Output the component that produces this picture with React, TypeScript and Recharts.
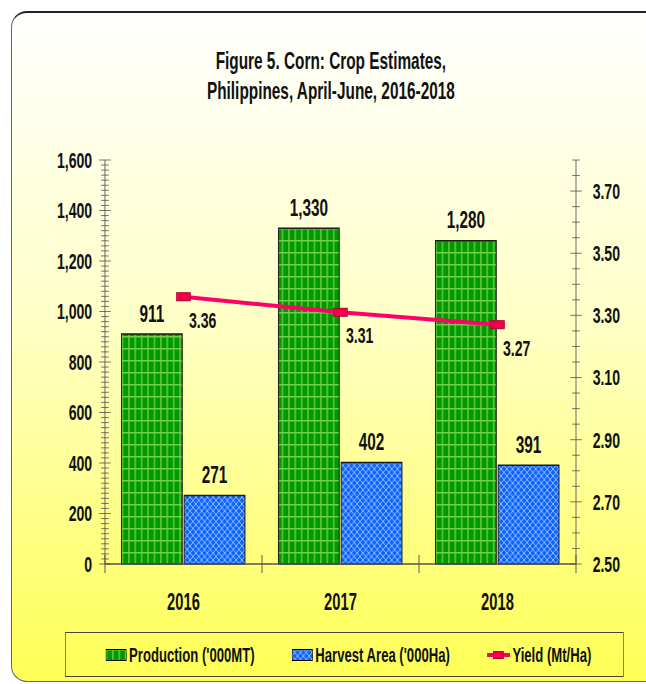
import React from 'react';
import {
  ComposedChart,
  Bar,
  Line,
  XAxis,
  YAxis,
  Legend,
  LabelList,
} from 'recharts';

// values
const years = ['2016', '2017', '2018'];
const production = [911, 1330, 1280];
const harvestArea = [271, 402, 391];
const yieldValues = [3.36, 3.31, 3.27];

const leftMajorTicks = [0, 200, 400, 600, 800, 1000, 1200, 1400, 1600];
const rightMajorTicks = [2.5, 2.7, 2.9, 3.1, 3.3, 3.5, 3.7];

// minor ticks between the labelled ones
const leftTicks = Array.from({ length: 81 }, (_, i) => i * 20);
const rightTicks = Array.from({ length: 27 }, (_, i) => Math.round((2.5 + i * 0.05) * 100) / 100);

const legendOrder = ['production', 'harvest', 'yield'];

const data = years.map((year, i) => ({
  year,
  production: production[i],
  harvest: harvestArea[i],
  yield: yieldValues[i],
}));

// the whole picture is squeezed horizontally, so the chart is drawn wide and scaled
const SX = 0.64;
const CW = 1010;
const CH = 684;
const FONT = '"Liberation Sans", Arial, sans-serif';
const TEXT = '#111';

const LeftTick = (props: any) => {
  const { x, y, payload } = props;
  const v = payload.value;
  const major = leftMajorTicks.includes(v);
  const half = major ? 9 : 6;
  return (
    <g>
      <line x1={x - half} x2={x + half} y1={y} y2={y} stroke="#555" strokeWidth={1} />
      {major && (
        <text x={x - 20} y={y} dy="0.36em" textAnchor="end" fontSize={22} fontWeight="bold" fontFamily={FONT} fill={TEXT}>
          {v.toLocaleString('en-US')}
        </text>
      )}
    </g>
  );
};

const RightTick = (props: any) => {
  const { x, y, payload } = props;
  const v = payload.value;
  const major = rightMajorTicks.some(t => Math.abs(t - v) < 1e-6);
  const half = major ? 9 : 6;
  return (
    <g>
      <line x1={x - half} x2={x + half} y1={y} y2={y} stroke="#555" strokeWidth={1} />
      {major && (
        <text x={x + 26} y={y} dy="0.36em" textAnchor="start" fontSize={22} fontWeight="bold" fontFamily={FONT} fill={TEXT}>
          {v.toFixed(2)}
        </text>
      )}
    </g>
  );
};

const XTick = (props: any) => {
  const { x, y, payload, index } = props;
  const off = payload.offset || 122.7;
  return (
    <g>
      <line x1={x - off} x2={x - off} y1={y - 9} y2={y + 9} stroke="#555" strokeWidth={1.5} />
      {index === years.length - 1 && (
        <line x1={x + off} x2={x + off} y1={y - 9} y2={y + 9} stroke="#555" strokeWidth={1.5} />
      )}
      <text x={x} y={y + 38} dy="0.36em" textAnchor="middle" fontSize={23} fontWeight="bold" fontFamily={FONT} fill={TEXT}>
        {payload.value}
      </text>
    </g>
  );
};

const BarLabel = (props: any) => {
  const { x, y, width, value } = props;
  return (
    <text x={x + width / 2} y={y - 21} dy="0.36em" textAnchor="middle" fontSize={24} fontWeight="bold" fontFamily={FONT} fill={TEXT}>
      {Number(value).toLocaleString('en-US')}
    </text>
  );
};

const YieldLabel = (props: any) => {
  const { x, y, value } = props;
  return (
    <text x={x + 30} y={y + 23} dy="0.36em" textAnchor="middle" fontSize={22} fontWeight="bold" fontFamily={FONT} fill={TEXT}>
      {Number(value).toFixed(2)}
    </text>
  );
};

const YieldDot = (props: any) => {
  const { cx, cy, index } = props;
  return (
    <rect key={`dot-${index}`} x={cx - 11} y={cy - 4} width={22} height={8} fill="#F0004A" stroke="#B0002E" strokeWidth={1} />
  );
};

const Swatch = ({ kind }: { kind: string }) => {
  if (kind === 'yield') {
    return (
      <svg width={36} height={12}>
        <line x1={0} x2={36} y1={6} y2={6} stroke="#FF0066" strokeWidth={4} />
        <rect x={10} y={2.5} width={16} height={7} fill="#F0004A" stroke="#B0002E" />
      </svg>
    );
  }
  return (
    <svg width={33} height={12}>
      <rect x={0.5} y={0.5} width={32} height={11} fill={kind === 'production' ? 'url(#prodPattern)' : 'url(#areaPattern)'} stroke="#000" />
    </svg>
  );
};

const legendLeft = [62, 353, 658];

const renderLegend = (props: any) => {
  const payload = [...(props.payload || [])].sort(
    (a: any, b: any) => legendOrder.indexOf(a.dataKey) - legendOrder.indexOf(b.dataKey)
  );
  return (
    <div
      style={{
        position: 'relative',
        height: 45,
        boxSizing: 'border-box',
        borderTop: '1px solid #444',
        borderBottom: '1px solid #444',
        borderLeft: '1.6px solid #444',
        borderRight: '1.6px solid #444',
        fontFamily: FONT,
        fontWeight: 'bold',
        fontSize: 20.5,
        color: TEXT,
      }}
    >
      {payload.map((entry: any, i: number) => (
        <div
          key={entry.dataKey}
          style={{ position: 'absolute', left: legendLeft[i], top: 0, bottom: 0, display: 'flex', alignItems: 'center', whiteSpace: 'nowrap' }}
        >
          <Swatch kind={entry.dataKey} />
          <span style={{ marginLeft: 4 }}>{entry.value}</span>
        </div>
      ))}
    </div>
  );
};

export default function App() {
  return (
    <div style={{ position: 'fixed', left: 0, top: 0, width: 646, height: 684, overflow: 'hidden', background: '#fff' }}>
      <div
        style={{
          position: 'absolute',
          left: 11,
          top: 11,
          width: 660,
          height: 671,
          boxSizing: 'border-box',
          borderLeft: '1px solid #666',
          borderTop: '2px solid #222',
          borderBottom: '1px solid #666',
          borderRadius: 16,
          background: 'linear-gradient(to bottom, #FFFFFF 0%, #FFFFC8 45%, #FFFF55 100%)',
        }}
      />
      <div
        style={{
          position: 'absolute',
          left: 0,
          top: 0,
          width: CW,
          height: CH,
          transform: `scaleX(${SX})`,
          transformOrigin: '0 0',
          fontFamily: FONT,
        }}
      >
        <div
          style={{
            position: 'absolute',
            top: 46,
            left: 0,
            width: 1034,
            textAlign: 'center',
            fontSize: 24,
            lineHeight: '30px',
            fontWeight: 'bold',
            color: TEXT,
          }}
        >
          Figure 5. Corn: Crop Estimates,
          <br />
          Philippines, April-June, 2016-2018
        </div>
        <ComposedChart
          width={CW}
          height={CH}
          data={data}
          margin={{ top: 160, right: 0, bottom: 7, left: 0 }}
          barCategoryGap="10.5%"
          barGap={3}
        >
          <defs>
            <pattern id="prodPattern" patternUnits="userSpaceOnUse" width={10} height={12}>
              <rect width={10} height={12} fill="#009900" />
              <rect x={0} y={0} width={2.6} height={12} fill="#5CC03C" />
              <rect x={0} y={0} width={10} height={1.5} fill="#6FD04A" />
            </pattern>
            <pattern id="areaPattern" patternUnits="userSpaceOnUse" width={9} height={7}>
              <rect width={9} height={7} fill="#0A62FF" />
              <path d="M0,0 L9,7 M9,0 L0,7" stroke="#B8D2FF" strokeWidth={1} fill="none" />
            </pattern>
          </defs>
          <XAxis
            dataKey="year"
            height={68}
            tick={XTick}
            tickLine={false}
            tickSize={0}
            tickMargin={0}
            axisLine={{ stroke: '#555', strokeWidth: 1.5 }}
          />
          <YAxis
            yAxisId="left"
            width={164}
            domain={[0, 1600]}
            ticks={leftTicks}
            interval={0}
            tick={LeftTick}
            tickLine={false}
            tickSize={0}
            tickMargin={0}
            axisLine={{ stroke: '#666', strokeWidth: 1.5 }}
          />
          <YAxis
            yAxisId="right"
            orientation="right"
            width={110}
            domain={[2.5, 3.8]}
            ticks={rightTicks}
            interval={0}
            tick={RightTick}
            tickLine={false}
            tickSize={0}
            tickMargin={0}
            axisLine={{ stroke: '#666', strokeWidth: 1.5 }}
          />
          <Legend
            verticalAlign="bottom"
            height={45}
            content={renderLegend}
            wrapperStyle={{ left: 101.6, width: 873, bottom: 7, height: 45 }}
          />
          <Bar
            yAxisId="left"
            dataKey="production"
            name="Production ('000MT)"
            fill="url(#prodPattern)"
            stroke="#1a1a1a"
            strokeWidth={1.5}
            isAnimationActive={false}
          >
            <LabelList dataKey="production" content={BarLabel} />
          </Bar>
          <Bar
            yAxisId="left"
            dataKey="harvest"
            name="Harvest Area ('000Ha)"
            fill="url(#areaPattern)"
            stroke="#1a1a1a"
            strokeWidth={1.5}
            isAnimationActive={false}
          >
            <LabelList dataKey="harvest" content={BarLabel} />
          </Bar>
          <Line
            yAxisId="right"
            type="linear"
            dataKey="yield"
            name="Yield (Mt/Ha)"
            stroke="#FF0066"
            strokeWidth={4}
            dot={YieldDot}
            activeDot={false}
            isAnimationActive={false}
          >
            <LabelList dataKey="yield" content={YieldLabel} />
          </Line>
        </ComposedChart>
      </div>
    </div>
  );
}
